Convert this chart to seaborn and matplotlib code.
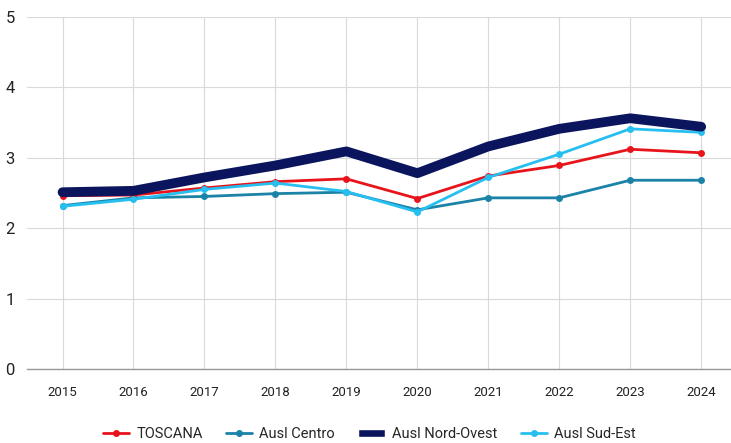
import pandas as pd
import matplotlib
matplotlib.use('Agg')
import matplotlib.pyplot as plt
import seaborn as sns
from matplotlib.lines import Line2D
from matplotlib.patches import Patch

# Dati
anni = [2015, 2016, 2017, 2018, 2019, 2020, 2021, 2022, 2023, 2024]
toscana = [2.46, 2.47, 2.57, 2.66, 2.70, 2.42, 2.74, 2.89, 3.12, 3.07]
ausl_centro = [2.32, 2.43, 2.45, 2.49, 2.51, 2.26, 2.43, 2.43, 2.68, 2.68]
ausl_nord_ovest = [2.51, 2.53, 2.72, 2.89, 3.09, 2.78, 3.16, 3.41, 3.56, 3.44]
ausl_sud_est = [2.31, 2.41, 2.55, 2.64, 2.52, 2.23, 2.72, 3.05, 3.41, 3.36]

serie = {
    'TOSCANA': toscana,
    'Ausl Centro': ausl_centro,
    'Ausl Nord-Ovest': ausl_nord_ovest,
    'Ausl Sud-Est': ausl_sud_est,
}
colori = {
    'TOSCANA': '#e8141c',
    'Ausl Centro': '#1b82a8',
    'Ausl Nord-Ovest': '#0a155e',
    'Ausl Sud-Est': '#27bff0',
}

df = pd.DataFrame({'pos': list(range(len(anni))) * 4,
                   'valore': toscana + ausl_centro + ausl_nord_ovest + ausl_sud_est,
                   'serie': sum([[k] * len(anni) for k in serie], [])})

sns.set_style('white')
plt.rcParams['font.family'] = ['Roboto', 'DejaVu Sans']

fig = plt.figure(figsize=(7.31, 4.43), dpi=100)
ax = fig.add_axes([0.037, 0.167, 0.963, 0.795])

stile = {
    'Ausl Centro': dict(lw=2.0, marker='o', ms=5, z=2),
    'TOSCANA': dict(lw=2.0, marker='o', ms=5, z=3),
    'Ausl Sud-Est': dict(lw=2.0, marker='o', ms=5, z=4),
    'Ausl Nord-Ovest': dict(lw=7.0, marker=None, ms=0, z=5),
}
for nome, st in stile.items():
    sub = df[df['serie'] == nome]
    sns.lineplot(data=sub, x='pos', y='valore', ax=ax, color=colori[nome],
                 lw=st['lw'], marker=st['marker'], markersize=st['ms'],
                 markeredgewidth=0, zorder=st['z'], legend=False,
                 solid_joinstyle='round', solid_capstyle='round')

ax.set_xlim(-0.5, 9.42)
ax.set_ylim(0, 5)
ax.set_yticks([0, 1, 2, 3, 4, 5])
ax.set_xticks(range(len(anni)))
ax.set_xticklabels([str(a) for a in anni], fontsize=9.5, color='#222222')
ax.tick_params(axis='y', labelsize=12, colors='#222222', length=0, pad=9)
ax.tick_params(axis='x', length=0, pad=12)
ax.set_xlabel('')
ax.set_ylabel('')
ax.grid(True, color='#d9d9d9', lw=0.8)
for s in ['top', 'right', 'left']:
    ax.spines[s].set_visible(False)
ax.spines['bottom'].set_color('#999999')
ax.spines['bottom'].set_linewidth(1.0)

handles = [
    Line2D([], [], color=colori['TOSCANA'], lw=2, marker='o', ms=4),
    Line2D([], [], color=colori['Ausl Centro'], lw=2, marker='o', ms=4),
    Patch(facecolor=colori['Ausl Nord-Ovest']),
    Line2D([], [], color=colori['Ausl Sud-Est'], lw=2, marker='o', ms=4),
]
fig.legend(handles, list(serie.keys()), loc='lower center', bbox_to_anchor=(0.505, -0.025),
           ncol=4, frameon=False, fontsize=10.5, handlelength=1.8, handleheight=0.5,
           columnspacing=1.6, handletextpad=0.5)

fig.savefig('out.png', dpi=100)
